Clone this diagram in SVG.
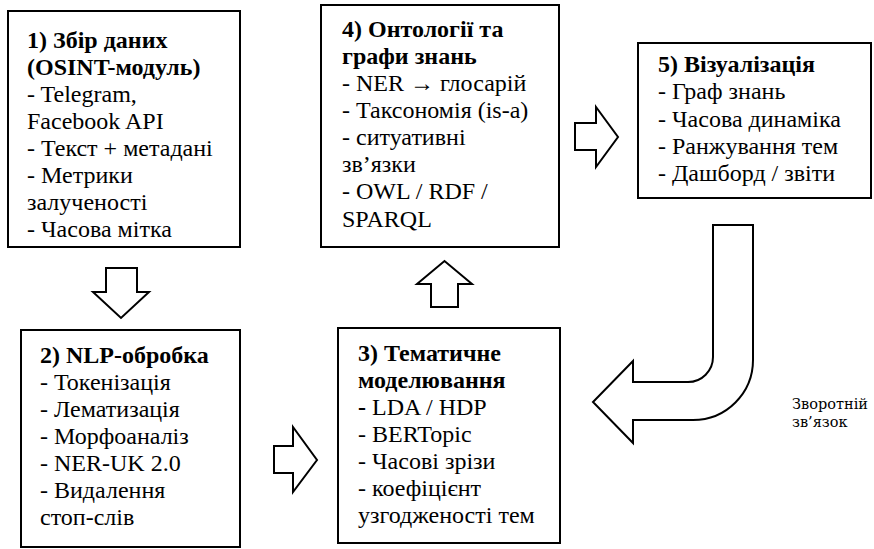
<svg xmlns="http://www.w3.org/2000/svg" width="874" height="549" viewBox="0 0 874 549" font-family="'Liberation Serif', 'Times New Roman', serif">
<style>
.box{fill:#fff;stroke:#000;stroke-width:2}
.arr{fill:#fff;stroke:#000;stroke-width:2;stroke-linejoin:miter}
.t{font-family:"Liberation Serif","Times New Roman",serif;font-size:24px;fill:#000}
.b{font-weight:bold}
.fb{font-family:"DejaVu Serif","Liberation Serif",serif;font-size:14.5px;fill:#000}
</style>
<rect width="874" height="549" fill="#fff"/>
<g id="node1" class="t">
<rect class="box" x="8" y="11" width="232" height="236"/>
<text x="27" y="48" class="b">1) Збір даних</text>
<text x="27" y="75" class="b">(OSINT-модуль)</text>
<text x="27" y="102">- Telegram,</text>
<text x="27" y="129">Facebook API</text>
<text x="27" y="156">- Текст + метадані</text>
<text x="27" y="183">- Метрики</text>
<text x="27" y="210">залученості</text>
<text x="27" y="237">- Часова мітка</text>
</g>
<g id="node4" class="t">
<rect class="box" x="321" y="5" width="238" height="242"/>
<text x="342" y="37" class="b">4) Онтології та</text>
<text x="342" y="64" class="b">графи знань</text>
<text x="342" y="91">- NER → глосарій</text>
<text x="342" y="118">- Таксономія (is-a)</text>
<text x="342" y="145">- ситуативні</text>
<text x="342" y="172">зв’язки</text>
<text x="342" y="199">- OWL / RDF /</text>
<text x="342" y="227">SPARQL</text>
</g>
<g id="node5" class="t">
<rect class="box" x="638" y="43" width="233" height="155"/>
<text x="658" y="72" class="b">5) Візуалізація</text>
<text x="658" y="99">- Граф знань</text>
<text x="658" y="126.5">- Часова динаміка</text>
<text x="658" y="154">- Ранжування тем</text>
<text x="658" y="181">- Дашборд / звіти</text>
</g>
<g id="node2" class="t">
<rect class="box" x="21" y="330" width="219" height="217"/>
<text x="40" y="363" class="b">2) NLP-обробка</text>
<text x="40" y="390">- Токенізація</text>
<text x="40" y="417">- Лематизація</text>
<text x="40" y="444">- Морфоаналіз</text>
<text x="40" y="471">- NER-UK 2.0</text>
<text x="40" y="498">- Видалення</text>
<text x="40" y="525">стоп-слів</text>
</g>
<g id="node3" class="t">
<rect class="box" x="338" y="328" width="222" height="215"/>
<text x="358" y="361" class="b">3) Тематичне</text>
<text x="358" y="388" class="b">моделювання</text>
<text x="358" y="415"><tspan class="b">-</tspan> LDA / HDP</text>
<text x="358" y="442">- BERTopic</text>
<text x="358" y="469">- Часові зрізи</text>
<text x="358" y="496">- коефіцієнт</text>
<text x="358" y="523">узгодженості тем</text>
</g>
<g id="connectors">
<polygon class="arr" points="106,268 137,268 137,292 149,292 121,318 93,292 106,292"/>
<polygon class="arr" points="274,446 293,446 293,427 317,460 293,492 293,473 274,473"/>
<polygon class="arr" points="431,307 431,284 417,284 444.5,261 472,284 458,284 458,307"/>
<polygon class="arr" points="575,123 596,123 596,107 618,137 596,167 596,150 575,150"/>
<path class="arr" d="M713 225 L753 225 L753 360 A60 60 0 0 1 693 420 L633 420 L633 443 L593 402 L633 361 L633 382 L688 382 A25 25 0 0 0 713 357 Z"/>
</g>
<g id="feedback-label">
<text class="fb" x="792" y="409">Зворотній</text>
<text class="fb" x="792" y="427">зв’язок</text>
</g>
</svg>
